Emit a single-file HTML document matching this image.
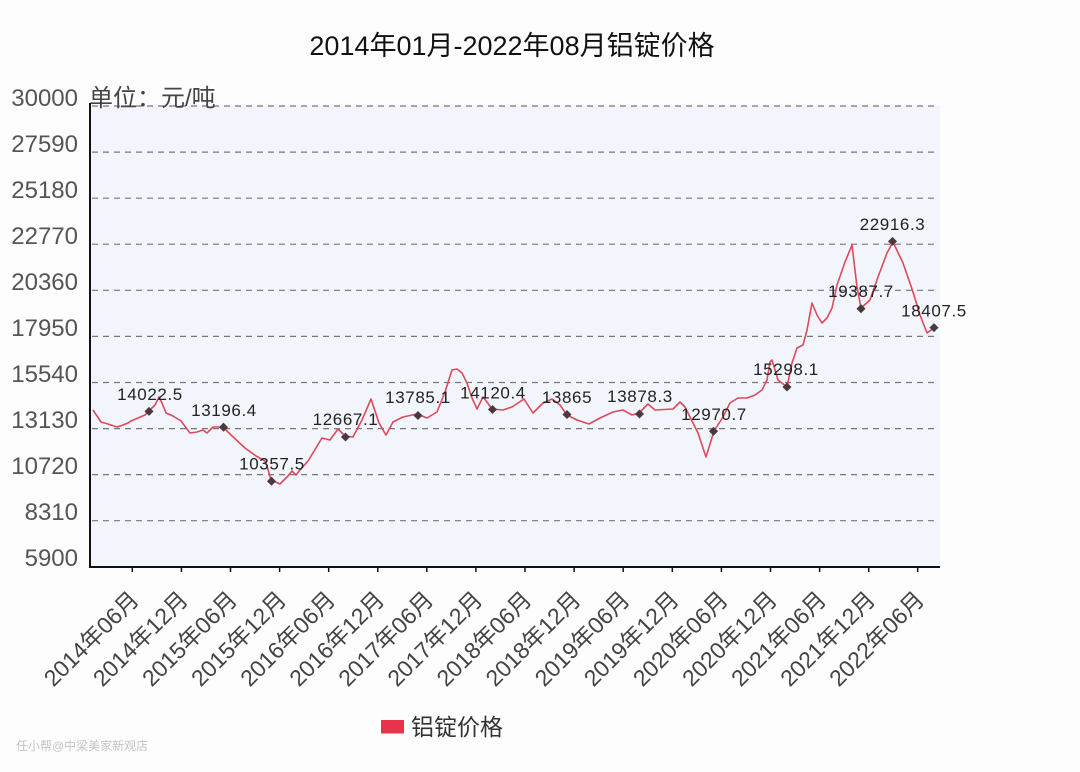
<!DOCTYPE html>
<html>
<head>
<meta charset="utf-8">
<style>
  html,body{margin:0;padding:0;background:#fdfdfe;}
  svg{display:block;}
  text{font-family:"Liberation Sans","Noto Sans CJK SC",sans-serif;}
</style>
</head>
<body>
<svg width="1080" height="772" viewBox="0 0 1080 772" xmlns="http://www.w3.org/2000/svg">
  <rect x="0" y="0" width="1080" height="772" fill="#fdfdfe"/>
  <!-- title -->
  <text x="512" y="55" font-size="27" fill="#111" text-anchor="middle">2014年01月-2022年08月铝锭价格</text>

  <!-- plot background -->
  <rect x="90" y="106" width="850" height="461" fill="#f2f5fb"/>

  <!-- grid lines -->
  <g stroke="#777" stroke-width="1.2" stroke-dasharray="6 5">
    <line x1="92" y1="106" x2="938" y2="106"/>
    <line x1="92" y1="152.1" x2="938" y2="152.1"/>
    <line x1="92" y1="198.2" x2="938" y2="198.2"/>
    <line x1="92" y1="244.2" x2="938" y2="244.2"/>
    <line x1="92" y1="290.3" x2="938" y2="290.3"/>
    <line x1="92" y1="336.4" x2="938" y2="336.4"/>
    <line x1="92" y1="382.5" x2="938" y2="382.5"/>
    <line x1="92" y1="428.6" x2="938" y2="428.6"/>
    <line x1="92" y1="474.6" x2="938" y2="474.6"/>
    <line x1="92" y1="520.7" x2="938" y2="520.7"/>
  </g>

  <!-- y axis labels -->
  <g font-size="24" fill="#555" text-anchor="end">
    <text x="78" y="106">30000</text>
    <text x="78" y="152">27590</text>
    <text x="78" y="198">25180</text>
    <text x="78" y="244">22770</text>
    <text x="78" y="290">20360</text>
    <text x="78" y="336">17950</text>
    <text x="78" y="382">15540</text>
    <text x="78" y="428">13130</text>
    <text x="78" y="474">10720</text>
    <text x="78" y="520">8310</text>
    <text x="78" y="566">5900</text>
  </g>
  <text x="89" y="106" font-size="24" fill="#444">单位：元/吨</text>

  <!-- axes -->
  <line x1="90" y1="103" x2="90" y2="568" stroke="#111" stroke-width="2"/>
  <line x1="89" y1="567" x2="940" y2="567" stroke="#111" stroke-width="2"/>

  <!-- x ticks -->
  <g stroke="#111" stroke-width="1.5">
    <line x1="132.3" y1="567" x2="132.3" y2="572"/>
    <line x1="181.4" y1="567" x2="181.4" y2="572"/>
    <line x1="230.5" y1="567" x2="230.5" y2="572"/>
    <line x1="279.6" y1="567" x2="279.6" y2="572"/>
    <line x1="328.7" y1="567" x2="328.7" y2="572"/>
    <line x1="377.8" y1="567" x2="377.8" y2="572"/>
    <line x1="426.8" y1="567" x2="426.8" y2="572"/>
    <line x1="475.9" y1="567" x2="475.9" y2="572"/>
    <line x1="525.0" y1="567" x2="525.0" y2="572"/>
    <line x1="574.1" y1="567" x2="574.1" y2="572"/>
    <line x1="623.2" y1="567" x2="623.2" y2="572"/>
    <line x1="672.3" y1="567" x2="672.3" y2="572"/>
    <line x1="721.4" y1="567" x2="721.4" y2="572"/>
    <line x1="770.5" y1="567" x2="770.5" y2="572"/>
    <line x1="819.6" y1="567" x2="819.6" y2="572"/>
    <line x1="868.7" y1="567" x2="868.7" y2="572"/>
    <line x1="917.7" y1="567" x2="917.7" y2="572"/>
  </g>

  <!-- x labels -->
  <g font-size="23" fill="#444" text-anchor="end">
    <text transform="translate(140.3,601) rotate(-45)">2014年06月</text>
    <text transform="translate(189.4,601) rotate(-45)">2014年12月</text>
    <text transform="translate(238.5,601) rotate(-45)">2015年06月</text>
    <text transform="translate(287.6,601) rotate(-45)">2015年12月</text>
    <text transform="translate(336.7,601) rotate(-45)">2016年06月</text>
    <text transform="translate(385.8,601) rotate(-45)">2016年12月</text>
    <text transform="translate(434.8,601) rotate(-45)">2017年06月</text>
    <text transform="translate(483.9,601) rotate(-45)">2017年12月</text>
    <text transform="translate(533.0,601) rotate(-45)">2018年06月</text>
    <text transform="translate(582.1,601) rotate(-45)">2018年12月</text>
    <text transform="translate(631.2,601) rotate(-45)">2019年06月</text>
    <text transform="translate(680.3,601) rotate(-45)">2019年12月</text>
    <text transform="translate(729.4,601) rotate(-45)">2020年06月</text>
    <text transform="translate(778.5,601) rotate(-45)">2020年12月</text>
    <text transform="translate(827.6,601) rotate(-45)">2021年06月</text>
    <text transform="translate(876.7,601) rotate(-45)">2021年12月</text>
    <text transform="translate(925.7,601) rotate(-45)">2022年06月</text>
  </g>

  <!-- series line -->
  <polyline fill="none" stroke="#dd4a5a" stroke-width="1.6" stroke-linejoin="round"
    points="93,410 101,422 108,424 117,427 123,425 128,423 131,421 138,418 145,415 149,411 155,405 159,397 162,403 166,413 173,416 181,421 190,433 197,432 203,430 207,433 213,427 223,427 231,435 245,448 256,456 265,461 267,466 271,480 280,484 288,476 292,471 296,475 300,470 308,461 322,438 330,440 338,429 345,436 353,437 362,420 371,399 379,423 386,435 393,422 403,417 417,414 427,418 437,412 445,392 452,370 457,369 462,373 467,383 472,398 477,409 483,397 487,402 492,409 503,410 512,407 524,399 533,413 543,403 552,399 560,405 567,415 577,420 589,424 600,418 613,412 623,410 632,415 639,413 648,404 655,410 673,409 680,402 685,407 693,423 698,433 706,457 714,431 723,417 730,403 738,398 747,398 755,395 762,390 767,380 770,362 772,360 778,380 787,387 792,363 797,348 803,345 807,330 812,303 817,315 822,323 827,318 832,308 837,285 845,262 852,245 857,287 861,308 870,300 878,277 887,253 893,242 903,263 913,292 920,315 927,333 934,328"/>

  <!-- markers -->
  <g fill="#4a3a40">
    <rect x="-3.2" y="-3.2" width="6.4" height="6.4" transform="translate(149,411.4) rotate(45)"/>
    <rect x="-3.2" y="-3.2" width="6.4" height="6.4" transform="translate(223.5,427.2) rotate(45)"/>
    <rect x="-3.2" y="-3.2" width="6.4" height="6.4" transform="translate(271.5,481.2) rotate(45)"/>
    <rect x="-3.2" y="-3.2" width="6.4" height="6.4" transform="translate(345.5,437) rotate(45)"/>
    <rect x="-3.2" y="-3.2" width="6.4" height="6.4" transform="translate(418,415.5) rotate(45)"/>
    <rect x="-3.2" y="-3.2" width="6.4" height="6.4" transform="translate(492.5,409.5) rotate(45)"/>
    <rect x="-3.2" y="-3.2" width="6.4" height="6.4" transform="translate(567,414.5) rotate(45)"/>
    <rect x="-3.2" y="-3.2" width="6.4" height="6.4" transform="translate(639.5,414) rotate(45)"/>
    <rect x="-3.2" y="-3.2" width="6.4" height="6.4" transform="translate(713.5,431.3) rotate(45)"/>
    <rect x="-3.2" y="-3.2" width="6.4" height="6.4" transform="translate(787,387) rotate(45)"/>
    <rect x="-3.2" y="-3.2" width="6.4" height="6.4" transform="translate(861,308.7) rotate(45)"/>
    <rect x="-3.2" y="-3.2" width="6.4" height="6.4" transform="translate(892.5,241.4) rotate(45)"/>
    <rect x="-3.2" y="-3.2" width="6.4" height="6.4" transform="translate(934,327.6) rotate(45)"/>
  </g>

  <!-- data labels -->
  <g font-size="17" fill="#222" text-anchor="middle" letter-spacing="0.6">
    <text x="150" y="400">14022.5</text>
    <text x="224" y="416">13196.4</text>
    <text x="272" y="469.5">10357.5</text>
    <text x="345.5" y="425">12667.1</text>
    <text x="418" y="403">13785.1</text>
    <text x="493" y="398.5">14120.4</text>
    <text x="567" y="403">13865</text>
    <text x="640" y="402">13878.3</text>
    <text x="714" y="420">12970.7</text>
    <text x="786" y="375">15298.1</text>
    <text x="861" y="297">19387.7</text>
    <text x="892.5" y="230">22916.3</text>
    <text x="934" y="316.5">18407.5</text>
  </g>

  <!-- legend -->
  <rect x="381" y="720" width="23" height="13.5" fill="#e8334a"/>
  <text x="411" y="735" font-size="23" fill="#333">铝锭价格</text>

  <!-- watermark -->
  <text x="16" y="750" font-size="12" fill="#c4c4c4">任小帮@中梁美家新观店</text>
</svg>
</body>
</html>
